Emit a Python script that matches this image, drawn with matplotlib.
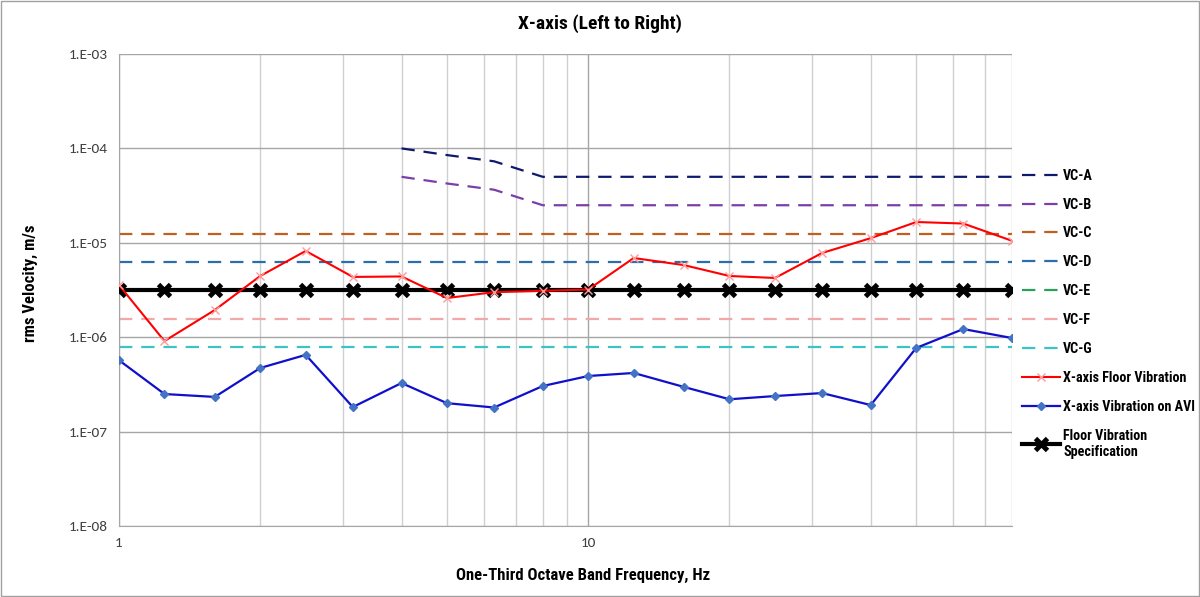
import matplotlib
matplotlib.use("Agg")
import matplotlib.pyplot as plt
from matplotlib.ticker import FixedLocator, NullLocator, FuncFormatter, NullFormatter
from matplotlib.patches import Rectangle

# one-third octave band centre frequencies, Hz
freq = [1, 1.25, 1.6, 2, 2.5, 3.15, 4, 5, 6.3, 8, 10, 12.5, 16, 20, 25, 31.5, 40, 50, 63, 80]
freq_ab = [4, 5, 6.3, 8, 10, 12.5, 16, 20, 25, 31.5, 40, 50, 63, 80]

# vibration criteria curves, m/s
vc_a = [1.0e-4, 8.5e-5, 7.3e-5, 5.0e-5, 5.0e-5, 5.0e-5, 5.0e-5, 5.0e-5, 5.0e-5, 5.0e-5, 5.0e-5, 5.0e-5, 5.0e-5, 5.0e-5]
vc_b = [5.0e-5, 4.25e-5, 3.65e-5, 2.5e-5, 2.5e-5, 2.5e-5, 2.5e-5, 2.5e-5, 2.5e-5, 2.5e-5, 2.5e-5, 2.5e-5, 2.5e-5, 2.5e-5]
vc_c = 12.5e-6
vc_d = 6.25e-6
vc_e = 3.125e-6
vc_f = 1.5625e-6
vc_g = 0.78e-6

floor_x = [3.57e-6, 9.1e-7, 1.94e-6, 4.45e-6, 8.2e-6, 4.35e-6, 4.4e-6, 2.6e-6, 3.0e-6, 3.1e-6,
           3.2e-6, 6.9e-6, 5.8e-6, 4.45e-6, 4.24e-6, 7.8e-6, 1.12e-5, 1.66e-5, 1.6e-5, 1.05e-5]
avi_x = [5.7e-7, 2.5e-7, 2.33e-7, 4.72e-7, 6.5e-7, 1.82e-7, 3.27e-7, 2.0e-7, 1.8e-7, 3.04e-7,
         3.88e-7, 4.18e-7, 2.97e-7, 2.2e-7, 2.38e-7, 2.56e-7, 1.91e-7, 7.7e-7, 1.22e-6, 9.8e-7]
spec = [3.125e-6] * len(freq)

yticks = [1e-8, 1e-7, 1e-6, 1e-5, 1e-4, 1e-3]
ytick_labels = ["1.E-08", "1.E-07", "1.E-06", "1.E-05", "1.E-04", "1.E-03"]

narrow = ["Roboto Condensed", "Archivo Narrow", "DejaVu Sans"]
regular = ["Carlito", "Liberation Sans", "DejaVu Sans"]

fig = plt.figure(figsize=(12, 5.97), dpi=100)
ax = fig.add_axes([119 / 1200, 71 / 597, 893 / 1200, 472 / 597])

dash = (0, (6, 4))
ax.plot(freq_ab, vc_a, color="#0F1A6E", lw=1.6, ls=dash, label="VC-A")
ax.plot(freq_ab, vc_b, color="#7A3FA8", lw=1.6, ls=dash, label="VC-B")
ax.plot(freq, [vc_c] * len(freq), color="#C06020", lw=1.6, ls=dash, label="VC-C")
ax.plot(freq, [vc_d] * len(freq), color="#2A6EAD", lw=1.6, ls=dash, label="VC-D")
ax.plot(freq, [vc_e] * len(freq), color="#2AA05A", lw=1.6, ls=dash, label="VC-E")
ax.plot(freq, [vc_f] * len(freq), color="#F2A8A8", lw=1.6, ls=dash, label="VC-F")
ax.plot(freq, [vc_g] * len(freq), color="#3CC4C4", lw=1.6, ls=dash, label="VC-G")

ax.plot(freq, spec, color="black", lw=3, marker="x", ms=8, mew=3.5, mec="black",
        label="Floor Vibration\nSpecification", zorder=3)
ax.plot(freq, floor_x, color="#FF0000", lw=1.5, marker="x", ms=6, mec="#FF9A9A",
        label="X-axis Floor Vibration", zorder=4)
ax.plot(freq, avi_x, color="#1010CC", lw=1.6, marker="D", ms=4, mec="#4472C4", mfc="#4472C4",
        label="X-axis Vibration on AVI", zorder=4)

ax.set_xscale("log")
ax.set_yscale("log")
ax.set_xlim(1, 80)
ax.set_ylim(1e-8, 1e-3)

ax.yaxis.set_major_locator(FixedLocator(yticks))
ax.yaxis.set_major_formatter(FuncFormatter(lambda v, p: ytick_labels[yticks.index(v)] if v in yticks else ""))
ax.yaxis.set_minor_locator(NullLocator())
ax.xaxis.set_major_locator(FixedLocator([1, 10]))
ax.xaxis.set_major_formatter(FuncFormatter(lambda v, p: "%d" % v))
ax.xaxis.set_minor_locator(FixedLocator([2, 3, 4, 5, 6, 7, 8, 9, 20, 30, 40, 50, 60, 70, 80]))
ax.xaxis.set_minor_formatter(NullFormatter())

ax.grid(True, which="major", axis="both", color="#A6A6A6", lw=1.0)
ax.grid(True, which="minor", axis="x", color="#D0D0D0", lw=1.0)
ax.set_axisbelow(True)
ax.tick_params(which="both", length=0, labelsize=11, colors="#404040", pad=8)
for lab in ax.get_xticklabels() + ax.get_yticklabels():
    lab.set_family(regular)
for side in ["top", "right"]:
    ax.spines[side].set_visible(False)
ax.spines["left"].set_color("#A6A6A6")
ax.spines["bottom"].set_color("#A6A6A6")

handles, labels = ax.get_legend_handles_labels()
order = [0, 1, 2, 3, 4, 5, 6, 8, 9, 7]
leg = ax.legend([handles[i] for i in order], [labels[i] for i in order],
                loc="upper left", bbox_to_anchor=(1 + 3 / 893, 0.772), borderpad=0,
                frameon=False, handlelength=2.7, handletextpad=0.2, labelspacing=1.05,
                prop={"family": narrow, "weight": "bold", "size": 10.2})

fig.text(600 / 1200, 1 - 24 / 597, "X-axis (Left to Right)", ha="center", va="center",
         family=narrow, weight="bold", fontsize=14)
fig.text(583 / 1200, 1 - 575 / 597, "One-Third Octave Band Frequency, Hz", ha="center", va="center",
         family=narrow, weight="bold", fontsize=12)
fig.text(30 / 1200, 1 - 283 / 597, "rms Velocity, m/s", ha="center", va="center", rotation=90,
         family=narrow, weight="bold", fontsize=12)

fig.patches.append(Rectangle((0.001, 0.001), 0.998, 0.998, transform=fig.transFigure,
                             fill=False, edgecolor="#A0A0A0", lw=1))

fig.savefig("out.png", dpi=100)
